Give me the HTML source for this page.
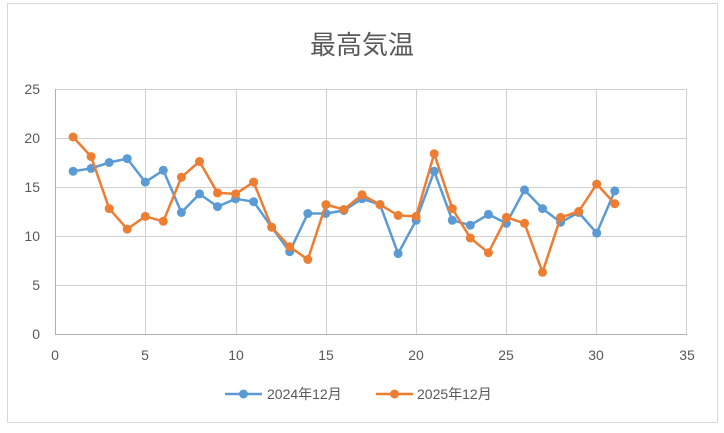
<!DOCTYPE html>
<html><head><meta charset="utf-8"><style>
html,body{margin:0;padding:0;background:#fff;}
svg{display:block;font-family:"Liberation Sans","Noto Sans CJK JP",sans-serif;}
</style></head><body>
<svg id="c" width="724" height="433" viewBox="0 0 724 433">
<rect x="7.5" y="3.5" width="710" height="419" fill="#fff" stroke="#d9d9d9"/>
<text x="362" y="54" text-anchor="middle" font-size="26" fill="#595959">最高気温</text>
<g stroke="#d0d0d0" stroke-width="1">
<line x1="55" y1="89.5" x2="687" y2="89.5"/>
<line x1="55" y1="138.5" x2="687" y2="138.5"/>
<line x1="55" y1="187.5" x2="687" y2="187.5"/>
<line x1="55" y1="236.5" x2="687" y2="236.5"/>
<line x1="55" y1="285.5" x2="687" y2="285.5"/>
<line x1="145.5" y1="89" x2="145.5" y2="334"/>
<line x1="236.5" y1="89" x2="236.5" y2="334"/>
<line x1="326.5" y1="89" x2="326.5" y2="334"/>
<line x1="416.5" y1="89" x2="416.5" y2="334"/>
<line x1="506.5" y1="89" x2="506.5" y2="334"/>
<line x1="596.5" y1="89" x2="596.5" y2="334"/>
<line x1="686.5" y1="89" x2="686.5" y2="334"/>
</g>
<g stroke="#b0b0b0"><line x1="55" y1="334.5" x2="687" y2="334.5"/><line x1="55.5" y1="89" x2="55.5" y2="334"/></g>
<g font-size="14" fill="#595959" text-anchor="end">
<text x="40" y="94">25</text><text x="40" y="143">20</text><text x="40" y="192">15</text>
<text x="40" y="241">10</text><text x="40" y="290">5</text><text x="40" y="339">0</text>
</g>
<g font-size="14" fill="#595959" text-anchor="middle">
<text x="55" y="360">0</text><text x="145" y="360">5</text><text x="236" y="360">10</text>
<text x="326" y="360">15</text><text x="416" y="360">20</text><text x="506" y="360">25</text>
<text x="596" y="360">30</text><text x="687" y="360">35</text>
</g>
<g id="series"></g>
<line x1="225" y1="394" x2="262" y2="394" stroke="#5b9bd5" stroke-width="2.5"/>
<circle cx="243.5" cy="394" r="4.5" fill="#5b9bd5"/>
<text x="267" y="399" font-size="14" fill="#595959">2024年12月</text>
<line x1="376" y1="394" x2="413" y2="394" stroke="#ed7d31" stroke-width="2.5"/>
<circle cx="394.5" cy="394" r="4.5" fill="#ed7d31"/>
<text x="417" y="399" font-size="14" fill="#595959">2025年12月</text>
</svg>
<script>
var a=[16.6,16.9,17.5,17.9,15.5,16.7,12.4,14.3,13.0,13.8,13.5,10.9,8.4,12.3,12.3,12.6,13.8,13.2,8.2,11.6,16.6,11.6,11.1,12.2,11.3,14.7,12.8,11.4,12.4,10.3,14.6];
var b=[20.1,18.1,12.8,10.7,12.0,11.5,16.0,17.6,14.4,14.3,15.5,10.9,8.9,7.6,13.2,12.7,14.2,13.2,12.1,12.0,18.4,12.8,9.8,8.3,11.9,11.3,6.3,11.9,12.5,15.3,13.3];
var g=document.getElementById('series'),ns='http://www.w3.org/2000/svg';
function draw(d,col){var p=[];d.forEach(function(v,i){p.push((55+18.057*(i+1)).toFixed(1)+','+(334-9.8*v).toFixed(1));});
var l=document.createElementNS(ns,'polyline');l.setAttribute('points',p.join(' '));l.setAttribute('fill','none');l.setAttribute('stroke',col);l.setAttribute('stroke-width','2.5');l.setAttribute('stroke-linejoin','round');g.appendChild(l);
p.forEach(function(s){var c=document.createElementNS(ns,'circle');var xy=s.split(',');c.setAttribute('cx',xy[0]);c.setAttribute('cy',xy[1]);c.setAttribute('r','4.5');c.setAttribute('fill',col);g.appendChild(c);});}
draw(a,'#5b9bd5');draw(b,'#ed7d31');
</script>
</body></html>
